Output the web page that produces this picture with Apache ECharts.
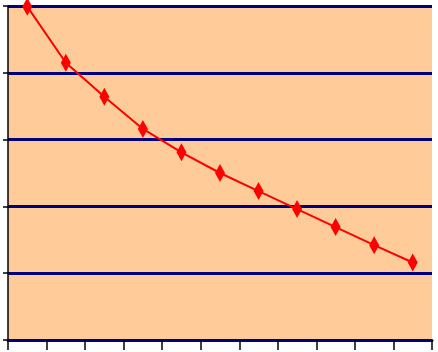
<!DOCTYPE html>
<html><head><meta charset="utf-8">
<script src="https://cdn.jsdelivr.net/npm/echarts@6/dist/echarts.min.js"></script>
<style>html,body{margin:0;padding:0;background:#fff}#c{width:438px;height:352px}</style>
</head><body><div id="c"></div>
<script>
const categories = ['1','2','3','4','5','6','7','8','9','10','11'];
const values = [4.99, 4.15, 3.64, 3.16, 2.81, 2.50, 2.23, 1.96, 1.69, 1.42, 1.16];
const yTicks = [0, 1, 2, 3, 4, 5];

const chart = echarts.init(document.getElementById('c'), null, {renderer:'canvas'});
chart.setOption({
  animation: false,
  grid: {left: 8, right: 6, top: 6, bottom: 12, show: true, backgroundColor: '#FFCC99', borderWidth: 0},
  xAxis: {
    type: 'category', data: categories, boundaryGap: true,
    axisLine: {show: true, lineStyle: {color: '#000080', width: 3}},
    axisTick: {show: true, length: 10, lineStyle: {color: '#000000', width: 1.5}},
    axisLabel: {show: false},
    splitLine: {show: false}
  },
  yAxis: {
    type: 'value', min: yTicks[0], max: yTicks[yTicks.length-1], interval: 1,
    axisLine: {show: true, lineStyle: {color: '#000000', width: 1.5}},
    axisTick: {show: true, length: 5, lineStyle: {color: '#000000', width: 1.5}},
    axisLabel: {show: false},
    splitLine: {show: true, lineStyle: {color: '#000080', width: 3}}
  },
  series: [{
    type: 'line', data: values,
    symbol: 'diamond', symbolSize: [10, 18],
    itemStyle: {color: '#FF0000'},
    lineStyle: {color: '#FF0000', width: 2},
    z: 5
  }]
});
</script></body></html>
